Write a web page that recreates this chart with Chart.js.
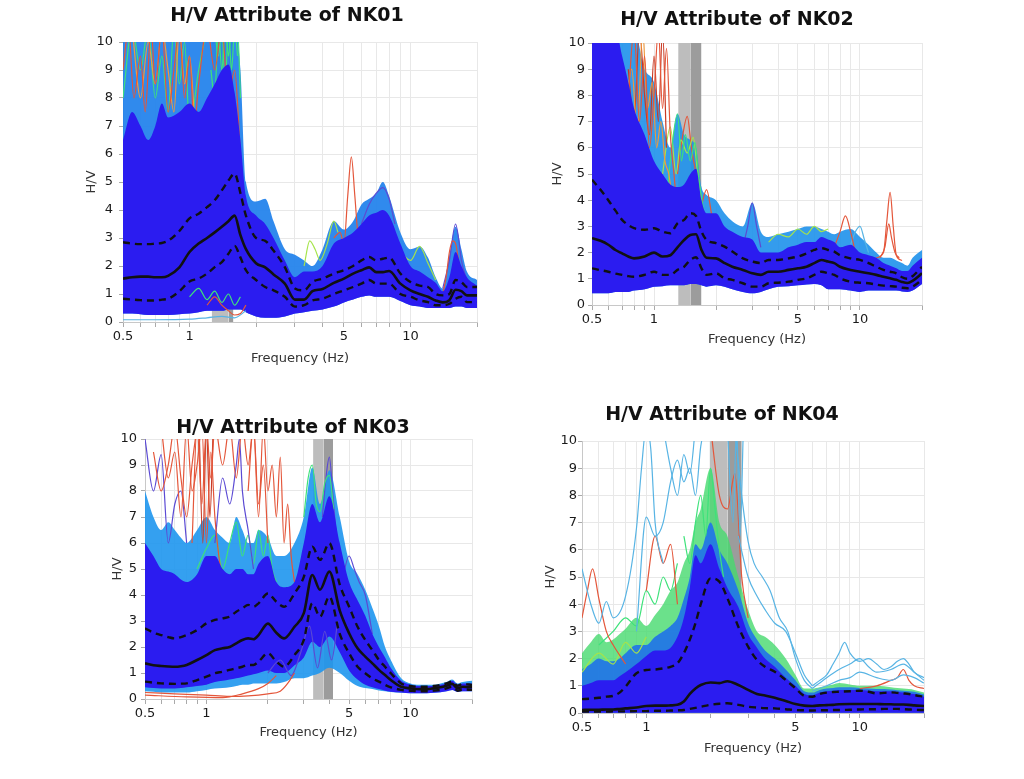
<!DOCTYPE html>
<html><head><meta charset="utf-8">
<script src="https://cdn.jsdelivr.net/npm/chart.js"></script>
<style>
html,body{margin:0;padding:0;background:#fff;width:1024px;height:779px;overflow:hidden;}
canvas{position:absolute;}
</style></head><body>
<canvas id="c1"></canvas><canvas id="c2"></canvas><canvas id="c3"></canvas><canvas id="c4"></canvas>
<script>
// ---------- shared frequency grid and ticks ----------
const F = [0.5,0.55,0.6,0.65,0.7,0.75,0.8,0.9,1.0,1.1,1.2,1.3,1.4,1.5,1.6,1.7,1.8,2.0,2.2,2.4,2.7,3.0,3.3,3.6,4.0,4.5,5.0,5.5,6.0,6.5,7.0,7.5,8.0,9.0,10,11,12,13,14,15,16,17,18,20];
const X_TICKS = [0.5,0.6,0.7,0.8,0.9,1,2,3,4,5,6,7,8,9,10,20];
const X_LABELS = [0.5,1,5,10];
const TITLES = ['H/V Attribute of NK01','H/V Attribute of NK02','H/V Attribute of NK03','H/V Attribute of NK04'];

// ---------- NK01 ----------
const NK01_MEAN = [1.55,1.6,1.62,1.62,1.6,1.6,1.65,1.95,2.5,2.8,3.0,3.2,3.4,3.6,3.8,3.1,2.6,2.1,1.95,1.7,1.37,0.8,0.8,1.1,1.18,1.4,1.55,1.73,1.85,1.95,1.78,1.78,1.82,1.37,1.13,1.0,0.9,0.77,0.7,0.78,1.15,1.1,0.95,0.95];
const NK01_UP = [2.85,2.8,2.78,2.78,2.8,2.82,2.9,3.25,3.7,3.87,4.1,4.35,4.7,5.05,5.3,4.6,3.8,3.0,2.9,2.55,1.96,1.2,1.13,1.43,1.55,1.73,1.85,2.0,2.2,2.32,2.2,2.26,2.3,1.73,1.43,1.3,1.25,1.0,0.95,1.0,1.5,1.43,1.25,1.25];
const NK01_LO = [0.83,0.8,0.78,0.77,0.77,0.8,0.83,1.1,1.45,1.55,1.73,1.96,2.14,2.44,2.72,2.3,1.85,1.5,1.25,1.13,0.9,0.55,0.6,0.77,0.83,1.0,1.13,1.25,1.37,1.5,1.37,1.37,1.37,1.0,0.9,0.77,0.71,0.6,0.6,0.65,0.83,0.9,0.71,0.71];
const NK01_BLUE = [6.5,7.5,7,6.5,7,7.8,7.3,7.5,7.8,7.5,8,8.5,9,9.2,8.2,6.5,4.5,3.8,3.5,3.0,2.2,1.6,1.8,1.8,2.0,2.8,3.0,3.2,3.5,3.8,3.9,4.0,3.8,2.8,2.0,1.8,1.6,1.4,1.1,1.6,2.5,2.0,1.6,1.3];
const NK01_OUTER = [10.5,10.5,10.5,10.5,10.5,10.5,10.5,10.5,10.5,10.5,10.5,10.5,10.5,10.5,10.5,9.0,5.0,4.3,4.4,3.6,2.6,2.4,2.2,2.0,2.6,3.6,3.3,3.6,4.2,4.4,4.6,5.0,4.5,3.2,2.6,2.7,2.3,1.6,1.2,2.4,3.4,2.6,1.8,1.5];
const NK01_BOTTOM = [0.3,0.3,0.28,0.25,0.25,0.25,0.25,0.28,0.3,0.35,0.4,0.4,0.4,0.45,0.45,0.45,0.35,0.2,0.15,0.15,0.2,0.3,0.35,0.4,0.45,0.55,0.7,0.8,0.9,0.95,0.9,0.9,0.9,0.75,0.6,0.55,0.5,0.5,0.5,0.5,0.55,0.55,0.5,0.5];
const NK01_BAND = [1.26,1.50,1.58];
const NK01_L1_F = [0.5,0.53,0.56,0.6,0.63,0.67,0.7,0.75,0.8,0.85,0.9,0.95,1.0,1.05,1.1,1.2,1.3,1.4,1.5,1.6,1.7,1.8,2.0];
const NK01_L1_V = [9,10.5,8,9.5,7.5,10.5,8.5,10.5,7.5,9,10.5,8,9.5,7,8.5,10.5,9,10.5,8,9,6,3.5,2.5];
const NK01_L2_F = [0.55,0.6,0.65,0.7,0.75,0.8,0.85,0.9,0.95,1.0,1.05];
const NK01_L2_V = [10.5,8,10,8.5,10.5,9,7.5,10.5,8.5,9.5,7.5];
const NK01_L3_F = [0.5,0.55,0.6,0.65,0.7,0.75,0.8,0.85,0.9,0.95,1.0,1.1,1.2];
const NK01_L3_V = [8,10.5,9,10.5,8,9.5,7.5,10.5,8.5,10,7,9,10.5];
const NK01_L4_F = [1.25,1.3,1.35,1.4,1.45,1.5,1.55,1.6,1.65,1.7];
const NK01_L4_V = [9,8,10.5,9,10.5,9.5,10.5,10,10.5,8];
const NK01_L5_F = [1.3,1.35,1.4,1.45,1.5,1.55,1.6,1.65];
const NK01_L5_V = [10.5,9.5,10.5,8.5,10.5,9,10.5,9.5];
const NK01_L6_F = [4.5,4.8,5.0,5.2,5.4,5.6,5.8,6.0,6.3];
const NK01_L6_V = [3.0,3.2,2.8,4.5,5.9,4.5,3.0,2.5,2.3];
const NK01_L7_F = [14,14.5,15,15.5,16,16.5,17];
const NK01_L7_V = [1.0,1.6,2.5,2.9,2.8,2.2,1.5];
const NK01_L8_F = [1.2,1.3,1.4,1.5,1.6,1.7,1.8];
const NK01_L8_V = [0.6,0.9,0.6,0.4,0.25,0.3,0.6];
const NK01_L9_F = [1.0,1.1,1.2,1.3,1.4,1.5,1.6,1.7];
const NK01_L9_V = [0.9,1.2,0.8,1.1,0.7,1.0,0.6,0.9];
const NK01_L10_F = [3.3,3.5,3.7,3.9,4.2,4.5,4.7];
const NK01_L10_V = [2.0,2.9,2.6,2.2,2.8,3.6,3.2];
const NK01_L11_F = [6,6.5,7,7.5,8,8.5];
const NK01_L11_V = [3.5,4.2,4.6,4.8,4.4,3.5];
const NK01_L12_F = [0.5,0.7,1.0,1.2,1.4,1.6,1.8];
const NK01_L12_V = [0.08,0.08,0.1,0.15,0.2,0.15,0.4];
const NK01_L13_F = [14,15,16,16.5,17,18];
const NK01_L13_V = [1.2,2.2,3.5,3.0,2.2,1.5];
const NK01_L14_F = [9,10,11,12,13];
const NK01_L14_V = [2.5,2.2,2.7,2.1,1.5];

// ---------- NK02 ----------
const NK02_MEAN = [2.55,2.45,2.3,2.1,1.97,1.85,1.78,1.85,2.0,1.85,1.9,2.2,2.48,2.67,2.7,2.1,1.8,1.78,1.6,1.46,1.34,1.21,1.15,1.27,1.27,1.34,1.4,1.46,1.6,1.72,1.66,1.6,1.46,1.34,1.27,1.21,1.15,1.08,1.02,0.96,0.88,0.84,0.92,1.21];
const NK02_UP = [4.78,4.4,4.0,3.6,3.25,3.05,2.93,2.87,2.93,2.8,2.74,3.12,3.25,3.5,3.4,2.8,2.48,2.36,2.23,2.04,1.78,1.66,1.6,1.72,1.72,1.78,1.85,1.97,2.1,2.17,2.1,2.04,1.9,1.78,1.72,1.6,1.46,1.34,1.27,1.21,1.06,1.0,1.1,1.46];
const NK02_LO = [1.4,1.33,1.27,1.2,1.15,1.1,1.08,1.15,1.27,1.15,1.15,1.34,1.46,1.72,1.82,1.4,1.15,1.21,1.02,0.96,0.83,0.7,0.7,0.83,0.85,0.89,0.96,1.02,1.15,1.27,1.21,1.15,1.02,0.89,0.85,0.83,0.78,0.74,0.72,0.7,0.66,0.64,0.7,0.96];
const NK02_BLUE = [10.5,10.5,10.5,10.5,9.5,8.5,7.5,6.5,5.5,5.0,4.6,4.5,4.6,5.0,5.2,4.0,3.5,3.5,3.0,2.8,2.6,2.5,2.0,2.0,2.0,2.2,2.3,2.4,2.4,2.6,2.5,2.4,2.2,2.3,2.0,1.9,1.8,1.6,1.5,1.4,1.3,1.3,1.5,1.8];
const NK02_OUTER = [10.5,10.5,10.5,10.5,10.5,10.5,10.5,9.0,8.5,7.0,6.0,7.3,6.5,6.3,6.0,4.5,4.2,4.0,3.5,3.2,3.0,3.9,2.8,2.6,2.7,2.8,2.9,3.0,3.0,2.9,2.8,2.7,2.8,2.9,2.6,2.3,2.0,1.8,1.8,1.7,1.6,1.5,1.8,2.1];
const NK02_BOTTOM = [0.45,0.45,0.45,0.5,0.5,0.5,0.55,0.6,0.7,0.72,0.75,0.75,0.75,0.8,0.8,0.75,0.7,0.75,0.7,0.6,0.5,0.45,0.5,0.6,0.7,0.72,0.75,0.78,0.8,0.75,0.6,0.6,0.6,0.55,0.5,0.55,0.55,0.55,0.55,0.55,0.52,0.5,0.55,0.8];
const NK02_BAND = [1.31,1.50,1.70];
const NK02_L1_F = [0.7,0.75,0.8,0.85,0.9,0.95,1.0,1.05,1.1,1.15,1.2,1.25,1.3];
const NK02_L1_V = [6,8,10.5,7,9.5,6,8,10.5,7.5,9.8,6.5,5,3.5];
const NK02_L2_F = [0.72,0.78,0.83,0.88,0.93,0.98,1.03,1.08,1.13,1.18,1.25];
const NK02_L2_V = [7,9,6.5,10.5,7.5,8.5,6,7,5.5,5,3.5];
const NK02_L3_F = [0.75,0.8,0.85,0.9,0.95,1.0,1.05,1.1,1.15];
const NK02_L3_V = [9,7,10.5,8,6.5,9.5,7,10.5,6];
const NK02_L4_F = [1.15,1.22,1.3,1.36,1.42,1.5,1.58,1.65,1.75];
const NK02_L4_V = [4,6,7.3,5.5,6.5,5.5,6.2,4.8,3.5];
const NK02_L5_F = [1.1,1.2,1.28,1.35,1.45,1.55,1.62,1.7];
const NK02_L5_V = [5,6.8,5,6.3,5.8,6.4,5.2,4];
const NK02_L6_F = [12,13,13.5,14,14.5,15,16];
const NK02_L6_V = [1.8,2.0,3.2,4.3,3.0,1.9,1.7];
const NK02_L7_F = [12.5,13.2,13.8,14.2,14.8,15.5];
const NK02_L7_V = [1.8,2.2,3.1,2.6,2.0,1.8];
const NK02_L8_F = [7.5,8,8.5,9,9.5];
const NK02_L8_V = [2.2,2.8,3.4,2.8,2.0];
const NK02_L9_F = [1.6,1.7,1.8,1.9,2.0];
const NK02_L9_V = [3.0,3.8,4.4,3.5,2.5];
const NK02_L10_F = [2.7,2.85,3.0,3.15,3.3];
const NK02_L10_V = [2.2,3.0,3.9,3.0,2.2];
const NK02_L11_F = [1.3,1.38,1.45,1.52,1.6];
const NK02_L11_V = [5,6.5,7.2,6,5];
const NK02_L12_F = [3.6,4.0,4.5,5.0,5.5,6.0,6.5,7.0];
const NK02_L12_V = [2.4,2.7,2.6,2.9,2.7,3.0,2.8,2.9];
const NK02_L13_F = [9,9.5,10,10.5,11];
const NK02_L13_V = [2.3,2.8,3.0,2.5,2.0];

// ---------- NK03 ----------
const NK03_MEAN = [1.37,1.3,1.27,1.25,1.24,1.26,1.31,1.5,1.69,1.88,1.95,2.0,2.14,2.27,2.33,2.3,2.46,2.9,2.55,2.33,2.78,3.3,4.77,4.2,4.9,3.4,2.53,1.95,1.63,1.37,1.12,0.92,0.73,0.47,0.41,0.38,0.38,0.41,0.45,0.51,0.58,0.41,0.47,0.45];
const NK03_UP = [2.72,2.55,2.46,2.38,2.33,2.38,2.46,2.65,2.91,3.04,3.1,3.17,3.36,3.49,3.62,3.55,3.68,4.06,3.74,3.55,4.06,4.7,5.86,5.35,5.99,4.4,3.55,2.78,2.27,1.88,1.5,1.24,0.99,0.6,0.5,0.47,0.47,0.5,0.54,0.6,0.67,0.51,0.58,0.54];
const NK03_LO = [0.67,0.63,0.6,0.59,0.58,0.59,0.6,0.73,0.86,0.99,1.05,1.12,1.18,1.24,1.31,1.31,1.44,1.76,1.44,1.24,1.69,2.27,3.68,3.17,3.94,2.5,1.76,1.24,0.99,0.79,0.67,0.54,0.45,0.35,0.32,0.3,0.3,0.32,0.35,0.41,0.47,0.32,0.37,0.35];
const NK03_BLUE = [6.0,5.5,5.0,4.9,4.8,4.6,4.5,4.8,5.5,5.5,5.0,4.8,5.0,5.0,4.8,4.8,5.2,5.5,4.5,4.3,4.5,6.0,7.5,6.8,7.8,6.0,4.5,3.8,3.2,2.5,2.0,1.6,1.2,0.7,0.55,0.5,0.5,0.5,0.55,0.6,0.7,0.55,0.6,0.6];
const NK03_BLUE_LO = [0.45,0.42,0.4,0.4,0.4,0.42,0.45,0.5,0.55,0.65,0.7,0.75,0.8,0.85,0.9,0.95,1.0,1.1,1.0,1.0,1.3,1.6,2.2,2.0,2.4,1.8,1.1,0.75,0.55,0.45,0.38,0.32,0.28,0.25,0.22,0.22,0.22,0.24,0.26,0.3,0.35,0.28,0.3,0.3];
const NK03_OUTER = [8,7,6.5,6.8,6.5,6.2,6,6.5,7,6.5,6.2,6.0,7.0,6.5,6.0,6.0,6.5,6.2,5.5,5.5,6.0,7.0,8.9,7.5,8.8,7.0,5.3,4.8,4.2,3.5,2.8,2.0,1.5,0.8,0.6,0.55,0.55,0.55,0.6,0.65,0.75,0.6,0.65,0.7];
const NK03_BOTTOM = [0.3,0.28,0.25,0.25,0.25,0.25,0.25,0.3,0.35,0.4,0.42,0.45,0.5,0.55,0.55,0.6,0.6,0.6,0.6,0.65,0.8,0.8,0.9,1.0,1.2,1.0,0.7,0.5,0.42,0.38,0.33,0.3,0.27,0.24,0.22,0.22,0.22,0.24,0.26,0.3,0.35,0.28,0.3,0.3];
const NK03_BAND = [3.33,3.76,4.17];
const NK03_L1_F = [0.6,0.65,0.7,0.75,0.8,0.85,0.9,0.95,1.0,1.05,1.1,1.15,1.2];
const NK03_L1_V = [10.5,8.5,9.5,7,10.5,8,9,10.5,6,9.5,7,5.5,4.5];
const NK03_L2_F = [0.85,0.9,0.95,1.0,1.05,1.1,1.2,1.3,1.4,1.5,1.6,1.7,1.8,1.9,2.0];
const NK03_L2_V = [6,10.5,7.5,10.5,8.5,10.5,9,10.5,8.5,10.5,9,10.5,7.5,9,6];
const NK03_L3_F = [1.6,1.7,1.8,1.9,2.0,2.1,2.2,2.3,2.4,2.5,2.6,2.7];
const NK03_L3_V = [8,10.5,7,10.5,8,9,7,9.3,6,7.5,5.5,4.5];
const NK03_L4_F = [0.55,0.6,0.65,0.7,0.75,0.8,0.85,0.9];
const NK03_L4_V = [9.5,8,9,10.5,8.5,7,9,10.5];
const NK03_L5_F = [0.92,0.96,1.0,1.04,1.08];
const NK03_L5_V = [10.5,6,10.5,7,10.5];
const NK03_L6_F = [0.5,0.7,1.0,1.3,1.6,2.0,2.3,2.5,2.7];
const NK03_L6_V = [0.25,0.2,0.15,0.1,0.12,0.2,0.3,0.6,1.0];
const NK03_L7_F = [0.5,0.8,1.2,1.5,1.8,2.0,2.2];
const NK03_L7_V = [0.15,0.08,0.05,0.2,0.4,0.6,0.9];
const NK03_L8_F = [1.1,1.2,1.3,1.4,1.45,1.5,1.6,1.7];
const NK03_L8_V = [6,8.5,7.5,9,10,8,6.5,5];
const NK03_L9_F = [2.0,2.3,2.6,2.9,3.2,3.5,3.8,4.1,4.4];
const NK03_L9_V = [1.0,1.5,0.9,1.8,2.8,1.2,2.6,1.5,3.0];
const NK03_L10_F = [4.5,5.0,5.3,5.6,6.0,6.5];
const NK03_L10_V = [4.0,5.5,5.0,4.5,4.0,2.5];
const NK03_L11_F = [0.9,1.0,1.1,1.2,1.3,1.4,1.5,1.6,1.7,1.8,1.9,2.0,2.1,2.2];
const NK03_L11_V = [5,5.8,6.3,5,6,6.8,5.5,6.3,5.2,6.5,5.5,6.3,5.0,4.5];
const NK03_L12_F = [3.0,3.15,3.3,3.45,3.6,3.8,4.0,4.2];
const NK03_L12_V = [7,8.5,9.0,7.5,7.2,8.3,8.6,7.3];
const NK03_L13_F = [0.5,0.55,0.6,0.65,0.7,0.75,0.8];
const NK03_L13_V = [10,8,9.4,6,7.5,8,6];
const NK03_L14_F = [3.7,3.85,4.0,4.15,4.3];
const NK03_L14_V = [7,8.5,9.3,8,6.5];

// ---------- NK04 ----------
const NK04_MEAN = [0.11,0.12,0.12,0.13,0.13,0.15,0.17,0.2,0.26,0.27,0.27,0.28,0.3,0.42,0.7,0.9,1.03,1.12,1.1,1.17,1.03,0.85,0.7,0.64,0.56,0.44,0.33,0.27,0.26,0.28,0.29,0.3,0.32,0.33,0.33,0.33,0.33,0.32,0.32,0.31,0.31,0.3,0.28,0.26];
const NK04_UP = [0.51,0.53,0.56,0.6,0.63,0.75,0.97,1.46,1.58,1.6,1.64,1.7,1.83,2.2,2.7,3.3,4.0,4.95,4.83,4.22,3.17,2.44,1.95,1.7,1.52,1.21,0.91,0.63,0.6,0.7,0.75,0.77,0.78,0.8,0.82,0.78,0.72,0.74,0.76,0.74,0.72,0.7,0.66,0.6];
const NK04_LO = [0.05,0.05,0.05,0.05,0.06,0.06,0.06,0.07,0.07,0.08,0.08,0.09,0.1,0.11,0.15,0.19,0.23,0.3,0.34,0.36,0.3,0.23,0.2,0.18,0.17,0.14,0.11,0.1,0.09,0.1,0.1,0.11,0.11,0.12,0.13,0.14,0.14,0.15,0.15,0.15,0.14,0.13,0.12,0.11];
const NK04_BLUE = [1.0,1.1,1.2,1.2,1.2,1.35,1.5,1.8,2.1,2.3,2.3,2.4,2.8,3.5,4.6,5.8,5.5,6.2,5.3,4.6,3.9,2.9,2.4,2.0,1.7,1.3,1.0,0.7,0.65,0.75,0.8,0.82,0.85,0.85,0.85,0.82,0.8,0.8,0.8,0.78,0.75,0.72,0.7,0.6];
const NK04_MID = [1.6,1.8,2.0,1.9,1.9,2.0,2.2,2.5,2.5,2.8,3.0,3.2,3.5,4.2,5.0,6.2,6.0,7.0,6.0,5.5,4.5,3.3,2.7,2.3,2.0,1.6,1.2,0.8,0.75,0.85,0.9,0.92,0.95,0.95,0.92,0.9,0.88,0.88,0.86,0.84,0.82,0.8,0.78,0.68];
const NK04_OUTER = [2.2,2.6,2.9,2.6,2.7,2.9,3.1,3.5,3.2,3.6,4.0,4.5,4.8,5.5,6.0,7.0,7.5,9.0,7.0,6.5,5.0,3.8,3.0,2.8,2.5,2.0,1.4,0.9,0.9,0.95,1.0,1.05,1.1,1.05,1.0,1.0,1.0,0.98,0.95,0.92,0.9,0.88,0.85,0.75];
const NK04_BOTTOM = [0.01,0.01,0.01,0.01,0.01,0.01,0.01,0.01,0.01,0.01,0.01,0.01,0.01,0.01,0.01,0.01,0.01,0.01,0.01,0.01,0.01,0.01,0.01,0.01,0.01,0.01,0.01,0.01,0.01,0.01,0.01,0.01,0.01,0.01,0.01,0.01,0.01,0.01,0.01,0.01,0.01,0.01,0.01,0.01];
const NK04_BAND = [1.98,2.41,2.80];
const NK04_L1_F = [0.5,0.55,0.6,0.65,0.7,0.8,0.9,0.95,1.0,1.05,1.1,1.2];
const NK04_L1_V = [5.3,4.0,3.3,4.1,3.5,4.3,6.8,9,10.5,9.7,7,5.5];
const NK04_L2_F = [0.9,1.0,1.1,1.2,1.3,1.4,1.5,1.6,1.7,1.8,1.9,2.0];
const NK04_L2_V = [3.0,7.2,6.5,7.0,8.5,9.3,8.5,9.0,8.0,9.8,10.5,10.5];
const NK04_L3_F = [2.6,2.8,3.0,3.2,3.5,3.8,4.2,4.6,5.0,5.5,6.0];
const NK04_L3_V = [10.5,8.0,6.3,5.5,5.0,4.5,3.5,3.0,2.0,1.2,0.9];
const NK04_L4_F = [2.7,3.0,3.3,3.6,4.0,4.5,5.0,5.5,6.0];
const NK04_L4_V = [6.5,5.0,4.3,3.8,3.3,3.0,2.2,1.4,1.0];
const NK04_L5_F = [6,6.5,7,7.5,8,8.5,9,10,11,12,13,14,15,16,17,18,20];
const NK04_L5_V = [1.0,1.2,1.4,1.8,2.2,2.6,2.2,1.9,2.0,1.8,1.6,1.7,1.9,2.0,1.8,1.5,1.3];
const NK04_L6_F = [6,7,8,9,10,11,12,14,16,18,20];
const NK04_L6_V = [0.9,1.3,1.6,1.8,2.0,1.7,1.5,1.6,1.8,1.5,1.2];
const NK04_L7_F = [6,7,8,9,10,12,14,16,18,20];
const NK04_L7_V = [0.8,1.0,1.2,1.3,1.5,1.3,1.2,1.4,1.3,1.1];
const NK04_L8_F = [2.4,2.55,2.65,2.75,2.85];
const NK04_L8_V = [10.5,7,10.5,6.5,10.5];
const NK04_L9_F = [1.2,1.3,1.4,1.5,1.6,1.7];
const NK04_L9_V = [10.5,9.0,8.0,9.5,8.8,10.5];
const NK04_L10_F = [0.5,0.53,0.56,0.6,0.65,0.7,0.8];
const NK04_L10_V = [3.5,4.5,5.3,4.2,3.0,2.5,1.8];
const NK04_L11_F = [2.0,2.2,2.4,2.6,2.8,3.0];
const NK04_L11_V = [10.5,8,7.5,8.8,5.0,3.5];
const NK04_L12_F = [10,12,14,15,16,17,18,20];
const NK04_L12_V = [0.9,1.0,1.2,1.3,1.6,1.2,1.0,0.9];
const NK04_L13_F = [1.0,1.1,1.2,1.3,1.4];
const NK04_L13_V = [4.5,6.5,5.5,6.2,4.0];
const NK04_L14_F = [1.5,1.6,1.7,1.8,1.9,2.0,2.1,2.2,2.3];
const NK04_L14_V = [6.5,5.5,7.0,8.0,6.5,9.0,7.5,6.0,5.0];
const NK04_L15_F = [0.6,0.7,0.8,0.9,1.0,1.1,1.2,1.3,1.4];
const NK04_L15_V = [2.5,3.0,3.5,3.2,4.5,4.0,5.0,4.5,5.5];
const NK04_L16_F = [0.5,0.6,0.7,0.8,0.9,1.0];
const NK04_L16_V = [1.5,2.2,1.8,2.6,2.2,2.8];

// ---------- styling ----------
const RED='#e4563a', ORANGE='#f29a3c', GREEN='#3ee27a', LGREEN='#a6e44a', PURPLE='#5b4ad4', LBLUE='#58b4e4', DRED='#c83a24';
const BLUE_FILL='#2b1cf0';
Chart.defaults.font.family = "'DejaVu Sans', Verdana, sans-serif";

const PANELS = [
 {id:'c1', title:TITLES[0], L:123, R:477, T:42, B:322, titleCx:287, titleCy:16, hvX:92, xTitleCy:358, top:0, yGap:10,
  mean:NK01_MEAN, up:NK01_UP, lo:NK01_LO, blue:NK01_BLUE, outer:NK01_OUTER, bottom:NK01_BOTTOM, band:NK01_BAND, outerColor:'rgba(30,128,236,0.92)',
  lines:[[NK01_L1_F,NK01_L1_V,RED],[NK01_L2_F,NK01_L2_V,ORANGE],[NK01_L3_F,NK01_L3_V,GREEN],[NK01_L4_F,NK01_L4_V,GREEN],[NK01_L5_F,NK01_L5_V,GREEN],
         [NK01_L6_F,NK01_L6_V,RED],[NK01_L7_F,NK01_L7_V,RED],[NK01_L8_F,NK01_L8_V,RED,1],[NK01_L9_F,NK01_L9_V,GREEN,1],[NK01_L10_F,NK01_L10_V,LGREEN],
         [NK01_L11_F,NK01_L11_V,PURPLE],[NK01_L12_F,NK01_L12_V,LBLUE,1],[NK01_L13_F,NK01_L13_V,PURPLE],[NK01_L14_F,NK01_L14_V,LGREEN]]},
 {id:'c2', title:TITLES[1], L:592, R:922, T:43, B:305, titleCx:737, titleCy:20, hvX:558, xTitleCy:339, top:0, yGap:7,
  mean:NK02_MEAN, up:NK02_UP, lo:NK02_LO, blue:NK02_BLUE, outer:NK02_OUTER, bottom:NK02_BOTTOM, band:NK02_BAND, outerColor:'rgba(30,145,235,0.9)',
  lines:[[NK02_L1_F,NK02_L1_V,RED],[NK02_L2_F,NK02_L2_V,ORANGE],[NK02_L3_F,NK02_L3_V,DRED],[NK02_L4_F,NK02_L4_V,GREEN],[NK02_L5_F,NK02_L5_V,LGREEN],
         [NK02_L6_F,NK02_L6_V,RED],[NK02_L7_F,NK02_L7_V,RED],[NK02_L8_F,NK02_L8_V,RED],[NK02_L9_F,NK02_L9_V,RED],[NK02_L10_F,NK02_L10_V,PURPLE],
         [NK02_L11_F,NK02_L11_V,RED],[NK02_L12_F,NK02_L12_V,LGREEN],[NK02_L13_F,NK02_L13_V,LBLUE]]},
 {id:'c3', title:TITLES[2], L:145, R:472, T:439, B:699, titleCx:293, titleCy:428, hvX:118, xTitleCy:732, top:400, yGap:8,
  mean:NK03_MEAN, up:NK03_UP, lo:NK03_LO, blue:NK03_BLUE, blueLo:NK03_BLUE_LO, outer:NK03_OUTER, bottom:NK03_BOTTOM, band:NK03_BAND, outerColor:'rgba(30,150,238,0.9)',
  lines:[[NK03_L1_F,NK03_L1_V,RED],[NK03_L2_F,NK03_L2_V,RED],[NK03_L3_F,NK03_L3_V,RED],[NK03_L4_F,NK03_L4_V,RED],[NK03_L5_F,NK03_L5_V,DRED],
         [NK03_L6_F,NK03_L6_V,RED,1],[NK03_L7_F,NK03_L7_V,RED,1],[NK03_L8_F,NK03_L8_V,PURPLE],[NK03_L9_F,NK03_L9_V,PURPLE,1],[NK03_L10_F,NK03_L10_V,PURPLE],
         [NK03_L11_F,NK03_L11_V,GREEN],[NK03_L12_F,NK03_L12_V,GREEN],[NK03_L13_F,NK03_L13_V,PURPLE],[NK03_L14_F,NK03_L14_V,PURPLE]]},
 {id:'c4', title:TITLES[3], L:582, R:926, T:441, B:713, titleCx:722, titleCy:415, hvX:551, xTitleCy:748, top:400, yGap:5,
  mean:NK04_MEAN, up:NK04_UP, lo:NK04_LO, blue:NK04_BLUE, mid:NK04_MID, outer:NK04_OUTER, bottom:NK04_BOTTOM, band:NK04_BAND, outerColor:'rgba(70,218,110,0.8)', midColor:'rgba(35,120,230,0.95)',
  lines:[[NK04_L1_F,NK04_L1_V,LBLUE],[NK04_L2_F,NK04_L2_V,LBLUE],[NK04_L3_F,NK04_L3_V,LBLUE],[NK04_L4_F,NK04_L4_V,LBLUE],[NK04_L5_F,NK04_L5_V,LBLUE],
         [NK04_L6_F,NK04_L6_V,LBLUE],[NK04_L7_F,NK04_L7_V,LBLUE],[NK04_L8_F,NK04_L8_V,LBLUE],[NK04_L9_F,NK04_L9_V,LBLUE],[NK04_L10_F,NK04_L10_V,RED],
         [NK04_L11_F,NK04_L11_V,RED],[NK04_L12_F,NK04_L12_V,RED],[NK04_L13_F,NK04_L13_V,RED],[NK04_L14_F,NK04_L14_V,GREEN],[NK04_L15_F,NK04_L15_V,GREEN],[NK04_L16_F,NK04_L16_V,LGREEN]]}
];

function pts(fs, vs){ return fs.map((f,i)=>({x:f, y:vs[i]})); }
const TICK_FONT = {size:13};

function build(p){
  const cv = document.getElementById(p.id);
  const Lc = Math.round(Math.min(p.hvX - 11.8, 2*p.titleCx - p.R));
  const W = Math.round(2*(p.titleCx - Lc));
  const padR = Math.max(0, Lc + W - p.R);
  const yW = p.L - Lc;
  const H = Math.round(p.xTitleCy + 11.8 - p.top);
  const xH = p.top + H - p.B;
  let tpt = p.titleCy - p.top - 11.4;
  let tpb = p.T - p.top - tpt - 22.8;
  if (tpb < 0) { tpt += tpb; tpb = 0; }
  cv.style.left = Lc+'px'; cv.style.top = p.top+'px';
  cv.style.width = W+'px'; cv.style.height = H+'px';
  cv.width = W; cv.height = H;

  const base = {pointRadius:0, clip:0, cubicInterpolationMode:'monotone'};
  const hidden = {borderColor:'rgba(0,0,0,0)', borderWidth:0, fill:false, order:95};
  const ds = [];
  ds.push(Object.assign({data:pts(F,p.bottom)}, hidden, base)); // index 0
  let blueTarget = 0;
  if (p.blueLo){ ds.push(Object.assign({data:pts(F,p.blueLo)}, hidden, base)); blueTarget = 1; }
  ds.push(Object.assign({}, base, {data:[{x:p.band[0],y:10},{x:p.band[1],y:10}], fill:'origin', backgroundColor:'#bdbdbd', borderColor:'rgba(0,0,0,0)', borderWidth:0, order:100, cubicInterpolationMode:'default', tension:0}));
  ds.push(Object.assign({}, base, {data:[{x:p.band[1],y:10},{x:p.band[2],y:10}], fill:'origin', backgroundColor:'#9c9c9c', borderColor:'rgba(0,0,0,0)', borderWidth:0, order:100, cubicInterpolationMode:'default', tension:0}));
  ds.push(Object.assign({data:pts(F,p.outer), fill:{target:0}, backgroundColor:p.outerColor, borderColor:'rgba(0,0,0,0)', borderWidth:0, order:90}, base));
  if (p.mid) ds.push(Object.assign({data:pts(F,p.mid), fill:{target:0}, backgroundColor:p.midColor, borderColor:'rgba(0,0,0,0)', borderWidth:0, order:88}, base));
  p.lines.forEach(l => ds.push(Object.assign({data:pts(l[0],l[1]), borderColor:l[2], borderWidth:1.2, fill:false, order: l[3]?75:85}, base)));
  ds.push(Object.assign({data:pts(F,p.blue), fill:{target:blueTarget}, backgroundColor:BLUE_FILL, borderColor:'rgba(0,0,0,0)', borderWidth:0, order:80}, base));
  ds.push(Object.assign({data:pts(F,p.up), borderColor:'#111', borderWidth:2.4, borderDash:[7,5], fill:false, order:1}, base));
  ds.push(Object.assign({data:pts(F,p.lo), borderColor:'#111', borderWidth:2.4, borderDash:[7,5], fill:false, order:1}, base));
  ds.push(Object.assign({data:pts(F,p.mean), borderColor:'#111', borderWidth:2.6, fill:false, order:0}, base));

  new Chart(cv, {
    type:'line',
    data:{datasets:ds},
    options:{
      responsive:false, animation:false, events:[],
      layout:{padding:0},
      plugins:{legend:{display:false}, tooltip:{enabled:false},
        title:{display:true, text:p.title, color:'#111', font:{size:19, weight:'bold', lineHeight:1.2}, padding:{top:tpt, bottom:tpb}}},
      scales:{
        x:{type:'logarithmic', min:0.5, max:20,
           afterBuildTicks:s=>{ s.ticks = X_TICKS.map(v=>({value:v})); },
           afterFit:s=>{ s.height = xH; },
           ticks:{autoSkip:false, maxRotation:0, minRotation:0, padding:2, font:TICK_FONT, color:'#1a1a1a',
                  callback:(v)=> X_LABELS.includes(v) ? String(v) : ''},
           grid:{color:'#e8e8e8', tickLength:5, tickColor:'#aaa'},
           border:{color:'#c8c8c8'},
           title:{display:true, text:'Frequency (Hz)', color:'#333', font:{size:13}, padding:{top:0, bottom:4}}},
        y:{min:0, max:10,
           afterFit:s=>{ s.width = yW; },
           ticks:{stepSize:1, padding:p.yGap-4, font:TICK_FONT, color:'#1a1a1a'},
           grid:{color:'#e8e8e8', tickLength:4, tickColor:'#aaa'},
           border:{color:'#c8c8c8'},
           title:{display:true, text:'H/V', color:'#333', font:{size:13}, padding:{top:p.hvX - Lc - 7.8, bottom:0}}},
        yRight:{axis:'y', position:'right', display:true, grid:{display:false}, ticks:{display:false}, border:{display:false},
           afterFit:s=>{ s.width = padR; }}
      }
    }
  });
}
PANELS.forEach(build);
</script>
</body></html>
